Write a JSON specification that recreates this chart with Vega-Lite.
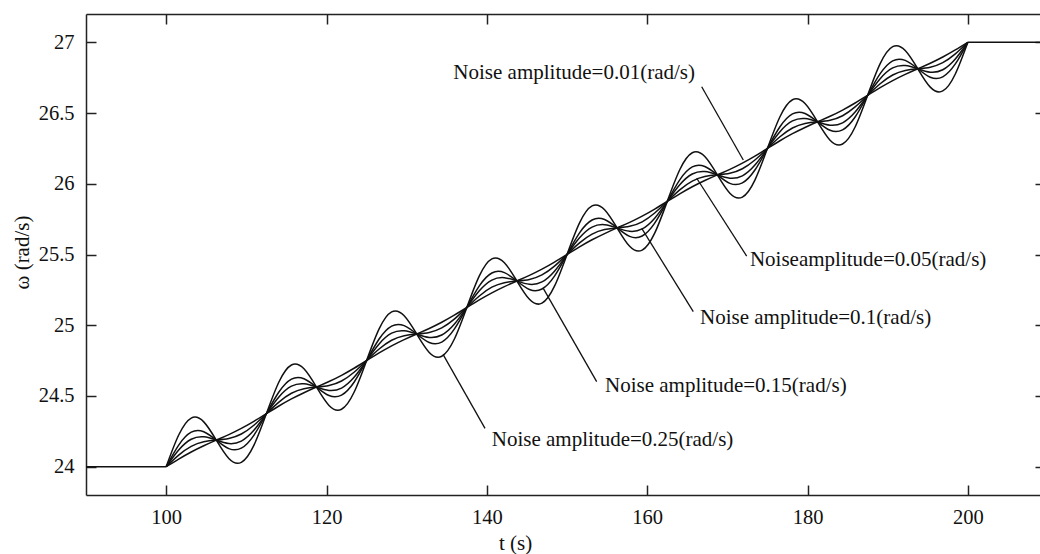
{
  "$schema": "https://vega.github.io/schema/vega-lite/v6.json",
  "width": 954,
  "height": 481,
  "autosize": {"type": "none"},
  "padding": {"left": 86, "top": 14, "right": 0, "bottom": 59},
  "background": "white",
  "config": {
    "view": {"stroke": null},
    "axis": {
      "grid": false,
      "domainColor": "#222",
      "domainWidth": 1.5,
      "tickColor": "#222",
      "tickWidth": 1.5,
      "labelColor": "#111",
      "labelFontSize": 20.5,
      "titleFontSize": 21,
      "titleFontWeight": "normal",
      "titleColor": "#111"
    }
  },
  "layer": [
    {
      "layer": [
        {
          "data": {"values": [
            {"t":100,"a":24,"b":24,"c":24,"d":24,"e":24},
            {"t":101.563,"a":24.224,"b":24.153,"c":24.118,"d":24.082,"e":24.054},
            {"t":103.125,"a":24.344,"b":24.244,"c":24.194,"d":24.144,"e":24.104},
            {"t":104.688,"a":24.317,"b":24.247,"c":24.211,"d":24.176,"e":24.148},
            {"t":106.25,"a":24.188,"b":24.188,"c":24.188,"d":24.188,"e":24.188},
            {"t":107.813,"a":24.058,"b":24.128,"c":24.164,"d":24.199,"e":24.227},
            {"t":109.375,"a":24.031,"b":24.131,"c":24.181,"d":24.231,"e":24.271},
            {"t":110.938,"a":24.151,"b":24.222,"c":24.257,"d":24.293,"e":24.321},
            {"t":112.5,"a":24.375,"b":24.375,"c":24.375,"d":24.375,"e":24.375},
            {"t":114.063,"a":24.599,"b":24.528,"c":24.493,"d":24.457,"e":24.429},
            {"t":115.625,"a":24.719,"b":24.619,"c":24.569,"d":24.519,"e":24.479},
            {"t":117.188,"a":24.692,"b":24.622,"c":24.586,"d":24.551,"e":24.523},
            {"t":118.75,"a":24.563,"b":24.563,"c":24.563,"d":24.563,"e":24.563},
            {"t":120.313,"a":24.433,"b":24.503,"c":24.539,"d":24.574,"e":24.602},
            {"t":121.875,"a":24.406,"b":24.506,"c":24.556,"d":24.606,"e":24.646},
            {"t":123.438,"a":24.526,"b":24.597,"c":24.632,"d":24.668,"e":24.696},
            {"t":125,"a":24.75,"b":24.75,"c":24.75,"d":24.75,"e":24.75},
            {"t":126.563,"a":24.974,"b":24.903,"c":24.868,"d":24.832,"e":24.804},
            {"t":128.125,"a":25.094,"b":24.994,"c":24.944,"d":24.894,"e":24.854},
            {"t":129.688,"a":25.067,"b":24.997,"c":24.961,"d":24.926,"e":24.898},
            {"t":131.25,"a":24.938,"b":24.938,"c":24.938,"d":24.938,"e":24.938},
            {"t":132.813,"a":24.808,"b":24.878,"c":24.914,"d":24.949,"e":24.977},
            {"t":134.375,"a":24.781,"b":24.881,"c":24.931,"d":24.981,"e":25.021},
            {"t":135.938,"a":24.901,"b":24.972,"c":25.007,"d":25.043,"e":25.071},
            {"t":137.5,"a":25.125,"b":25.125,"c":25.125,"d":25.125,"e":25.125},
            {"t":139.063,"a":25.349,"b":25.278,"c":25.243,"d":25.207,"e":25.179},
            {"t":140.625,"a":25.469,"b":25.369,"c":25.319,"d":25.269,"e":25.229},
            {"t":142.188,"a":25.442,"b":25.372,"c":25.336,"d":25.301,"e":25.273},
            {"t":143.75,"a":25.313,"b":25.313,"c":25.313,"d":25.313,"e":25.313},
            {"t":145.313,"a":25.183,"b":25.253,"c":25.289,"d":25.324,"e":25.352},
            {"t":146.875,"a":25.156,"b":25.256,"c":25.306,"d":25.356,"e":25.396},
            {"t":148.438,"a":25.276,"b":25.347,"c":25.382,"d":25.418,"e":25.446},
            {"t":150,"a":25.5,"b":25.5,"c":25.5,"d":25.5,"e":25.5},
            {"t":151.563,"a":25.724,"b":25.653,"c":25.618,"d":25.582,"e":25.554},
            {"t":153.125,"a":25.844,"b":25.744,"c":25.694,"d":25.644,"e":25.604},
            {"t":154.688,"a":25.817,"b":25.747,"c":25.711,"d":25.676,"e":25.648},
            {"t":156.25,"a":25.688,"b":25.688,"c":25.688,"d":25.688,"e":25.688},
            {"t":157.813,"a":25.558,"b":25.628,"c":25.664,"d":25.699,"e":25.727},
            {"t":159.375,"a":25.531,"b":25.631,"c":25.681,"d":25.731,"e":25.771},
            {"t":160.938,"a":25.651,"b":25.722,"c":25.757,"d":25.793,"e":25.821},
            {"t":162.5,"a":25.875,"b":25.875,"c":25.875,"d":25.875,"e":25.875},
            {"t":164.063,"a":26.099,"b":26.028,"c":25.993,"d":25.957,"e":25.929},
            {"t":165.625,"a":26.219,"b":26.119,"c":26.069,"d":26.019,"e":25.979},
            {"t":167.188,"a":26.192,"b":26.122,"c":26.086,"d":26.051,"e":26.023},
            {"t":168.75,"a":26.063,"b":26.063,"c":26.063,"d":26.063,"e":26.063},
            {"t":170.313,"a":25.933,"b":26.003,"c":26.039,"d":26.074,"e":26.102},
            {"t":171.875,"a":25.906,"b":26.006,"c":26.056,"d":26.106,"e":26.146},
            {"t":173.438,"a":26.026,"b":26.097,"c":26.132,"d":26.168,"e":26.196},
            {"t":175,"a":26.25,"b":26.25,"c":26.25,"d":26.25,"e":26.25},
            {"t":176.563,"a":26.474,"b":26.403,"c":26.368,"d":26.332,"e":26.304},
            {"t":178.125,"a":26.594,"b":26.494,"c":26.444,"d":26.394,"e":26.354},
            {"t":179.688,"a":26.567,"b":26.497,"c":26.461,"d":26.426,"e":26.398},
            {"t":181.25,"a":26.438,"b":26.438,"c":26.438,"d":26.438,"e":26.438},
            {"t":182.813,"a":26.308,"b":26.378,"c":26.414,"d":26.449,"e":26.477},
            {"t":184.375,"a":26.281,"b":26.381,"c":26.431,"d":26.481,"e":26.521},
            {"t":185.938,"a":26.401,"b":26.472,"c":26.507,"d":26.543,"e":26.571},
            {"t":187.5,"a":26.625,"b":26.625,"c":26.625,"d":26.625,"e":26.625},
            {"t":189.063,"a":26.849,"b":26.778,"c":26.743,"d":26.707,"e":26.679},
            {"t":190.625,"a":26.969,"b":26.869,"c":26.819,"d":26.769,"e":26.729},
            {"t":192.188,"a":26.942,"b":26.872,"c":26.836,"d":26.801,"e":26.773},
            {"t":193.75,"a":26.813,"b":26.813,"c":26.813,"d":26.813,"e":26.813},
            {"t":195.313,"a":26.683,"b":26.753,"c":26.789,"d":26.824,"e":26.852},
            {"t":196.875,"a":26.656,"b":26.756,"c":26.806,"d":26.856,"e":26.896},
            {"t":198.438,"a":26.776,"b":26.847,"c":26.882,"d":26.918,"e":26.946},
            {"t":200,"a":27,"b":27,"c":27,"d":27,"e":27}
          ]},
          "transform": [{"fold": ["a", "b", "c", "d", "e"], "as": ["amp", "w"]}],
          "mark": {"type": "line", "interpolate": "natural", "color": "#111", "strokeWidth": 1.5, "clip": true},
          "encoding": {
            "x": {
              "field": "t", "type": "quantitative",
              "scale": {"domain": [90, 209], "nice": false, "zero": false},
              "axis": {
                "orient": "bottom",
                "values": [100, 120, 140, 160, 180, 200],
                "format": "~g",
                "ticks": true,
                "tickSize": -10,
                "labelPadding": 22,
                "labelFont": "Times New Roman",
                "labelFontSize": 20.5,
                "title": "t (s)",
                "titleFont": "Times New Roman",
                "titleFontSize": 21,
                "titleFontWeight": "normal",
                "titleX": 429,
                "titleY": 48,
                "titleBaseline": "middle"
              }
            },
            "y": {
              "field": "w", "type": "quantitative",
              "scale": {"domain": [23.8, 27.2], "nice": false, "zero": false},
              "axis": {
                "orient": "left",
                "values": [24, 24.5, 25, 25.5, 26, 26.5, 27],
                "format": "~g",
                "ticks": true,
                "tickSize": -10,
                "labelPadding": 22,
                "labelFont": "Liberation Serif",
                "labelFontSize": 20.5,
                "title": "ω (rad/s)",
                "titleFont": "Liberation Serif",
                "titleFontSize": 21,
                "titleFontWeight": "normal",
                "titleX": -64,
                "titleY": 238,
                "titleAngle": -90,
                "titleBaseline": "middle"
              }
            },
            "detail": {"field": "amp", "type": "nominal"}
          }
        },
        {
          "data": {"values": [
            {"t": 90, "w": 24, "g": "pre"},
            {"t": 100, "w": 24, "g": "pre"},
            {"t": 200, "w": 27, "g": "post"},
            {"t": 210, "w": 27, "g": "post"}
          ]},
          "mark": {"type": "line", "color": "#111", "strokeWidth": 1.5, "clip": true},
          "encoding": {
            "x": {"field": "t", "type": "quantitative"},
            "y": {"field": "w", "type": "quantitative"},
            "detail": {"field": "g", "type": "nominal"}
          }
        },
        {
          "data": {"values": [
            {"x1": 166.80, "y1": 26.686, "x2": 171.99, "y2": 26.168},
            {"x1": 172.41, "y1": 25.489, "x2": 166.18, "y2": 26.039},
            {"x1": 165.75, "y1": 25.096, "x2": 159.32, "y2": 25.685},
            {"x1": 153.70, "y1": 24.601, "x2": 147.04, "y2": 25.261},
            {"x1": 139.77, "y1": 24.271, "x2": 134.57, "y2": 24.790}
          ]},
          "mark": {"type": "rule", "color": "#111", "strokeWidth": 1.3},
          "encoding": {
            "x": {"field": "x1", "type": "quantitative"},
            "y": {"field": "y1", "type": "quantitative"},
            "x2": {"field": "x2"},
            "y2": {"field": "y2"}
          }
        },
        {
          "data": {"values": [
            {"t": 165.96, "w": 26.783, "label": "Noise amplitude=0.01(rad/s)"}
          ]},
          "mark": {"type": "text", "align": "right", "baseline": "middle", "fontSize": 21, "color": "#111", "font": "Liberation Serif"},
          "encoding": {
            "x": {"field": "t", "type": "quantitative"},
            "y": {"field": "w", "type": "quantitative"},
            "text": {"field": "label"}
          }
        },
        {
          "data": {"values": [
            {"t": 172.82, "w": 25.461, "label": "Noiseamplitude=0.05(rad/s)"},
            {"t": 166.59, "w": 25.051, "label": "Noise amplitude=0.1(rad/s)"},
            {"t": 154.74, "w": 24.570, "label": "Noise amplitude=0.15(rad/s)"},
            {"t": 140.61, "w": 24.189, "label": "Noise amplitude=0.25(rad/s)"}
          ]},
          "mark": {"type": "text", "align": "left", "baseline": "middle", "fontSize": 21, "color": "#111", "font": "Liberation Serif"},
          "encoding": {
            "x": {"field": "t", "type": "quantitative"},
            "y": {"field": "w", "type": "quantitative"},
            "text": {"field": "label"}
          }
        }
      ]
    },
    {
      "data": {"values": [{"t": 100, "w": 24}]},
      "mark": {"type": "point", "opacity": 0},
      "encoding": {
        "x": {
          "field": "t", "type": "quantitative",
          "scale": {"domain": [90, 209], "nice": false, "zero": false},
          "axis": {"orient": "top", "values": [100, 120, 140, 160, 180, 200], "labels": false, "ticks": true, "tickSize": -10, "title": null}
        },
        "y": {
          "field": "w", "type": "quantitative",
          "scale": {"domain": [23.8, 27.2], "nice": false, "zero": false},
          "axis": {"orient": "right", "values": [24, 24.5, 25, 25.5, 26, 26.5, 27], "labels": false, "domain": false, "ticks": true, "tickSize": -5, "title": null}
        }
      }
    }
  ],
  "resolve": {"scale": {"x": "independent", "y": "independent"}}
}
